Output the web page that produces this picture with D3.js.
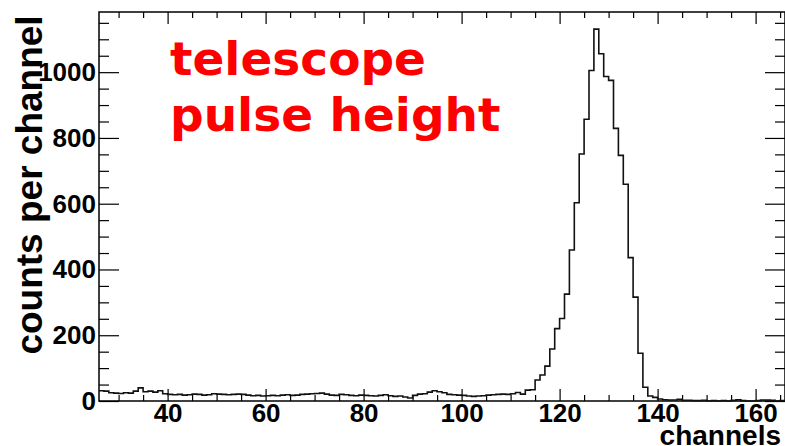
<!DOCTYPE html>
<html>
<head>
<meta charset="utf-8">
<script src="https://cdn.jsdelivr.net/npm/d3@7/dist/d3.min.js"></script>
<style>
  html, body { margin: 0; padding: 0; background: #fff; }
  svg { display: block; }
</style>
</head>
<body>
<svg id="chart" width="785" height="446"></svg>
<script>
// Pulse-height spectrum: one bin per channel, bins [c, c+1)
const firstChannel = 26;
const counts = [
  31, 30, 25, 24, 23, 25, 24, 30, 40, 28,   // 26-35
  30, 27, 31, 22, 20, 19, 20, 18, 19, 21,   // 36-45
  20, 18, 19, 22, 21, 20, 19, 20, 21, 20,   // 46-55
  18, 16, 17, 15, 16, 17, 16, 18, 19, 17,   // 56-65
  18, 20, 21, 22, 23, 24, 21, 18, 17, 20,   // 66-75
  19, 17, 16, 18, 17, 16, 15, 17, 19, 16,   // 76-85
  14, 15, 12, 9, 17, 21, 22, 27, 31, 28,    // 86-95
  25, 20, 19, 18, 17, 15, 14, 15, 16, 18,   // 96-105
  19, 20, 21, 20, 22, 26, 21, 33, 34, 64,   // 106-115
  79, 106, 158, 220, 251, 325, 459, 603, 751, 857,   // 116-125
  1005, 1131, 1056, 987, 975, 829, 747, 659, 436, 316, // 126-135
  145, 42, 15, 11, 6, 4, 3, 3, 5, 2,        // 136-145
  2, 1, 1, 2, 0, 1, 0, 1, 0, 2,             // 146-155
  4, 1, 0, 0, 1, 3, 3, 2, 0, 1              // 156-165
];
const xDomain = [26, 166];
const yDomain = [0, 1183];
const xMajorTicks = [40, 60, 80, 100, 120, 140, 160];
const xMinorTicks = d3.range(30, 166, 5).filter(v => v % 20 !== 0);
const yMajorTicks = [0, 200, 400, 600, 800, 1000];
const yMinorTicks = d3.range(50, 1183, 50).filter(v => v % 200 !== 0);
const titleLines = ["telescope", "pulse height"];
const yTitle = "counts per channel";
const xTitle = "channels";

const svg = d3.select("#chart");
const frame = { left: 99, right: 785, top: 12, bottom: 401 };

const x = d3.scaleLinear().domain(xDomain).range([frame.left, frame.right]);
const y = d3.scaleLinear().domain(yDomain).range([frame.bottom, frame.top]);

const labelFont = "bold 26px 'Liberation Sans', Arial, sans-serif";

function styleAxis(g) {
  g.select(".domain").remove();
  g.selectAll(".tick line").attr("stroke", "#000").attr("stroke-width", 1.2);
  g.selectAll(".tick text").attr("fill", "#000").style("font", labelFont);
}

// bottom axis: labelled majors and minor ticks, pointing into the frame
svg.append("g").attr("transform", `translate(0,${frame.bottom})`)
  .call(d3.axisBottom(x).tickValues(xMajorTicks).tickFormat(d3.format("d"))
    .tickSizeInner(-12).tickSizeOuter(0).tickPadding(3))
  .call(styleAxis);
svg.append("g").attr("transform", `translate(0,${frame.bottom})`)
  .call(d3.axisBottom(x).tickValues(xMinorTicks).tickFormat("")
    .tickSizeInner(-6).tickSizeOuter(0))
  .call(styleAxis);

// top axis mirrors the bottom ticks
svg.append("g").attr("transform", `translate(0,${frame.top})`)
  .call(d3.axisTop(x).tickValues(xMajorTicks).tickFormat("")
    .tickSizeInner(-12).tickSizeOuter(0))
  .call(styleAxis);
svg.append("g").attr("transform", `translate(0,${frame.top})`)
  .call(d3.axisTop(x).tickValues(xMinorTicks).tickFormat("")
    .tickSizeInner(-6).tickSizeOuter(0))
  .call(styleAxis);

// left axis
svg.append("g").attr("transform", `translate(${frame.left},0)`)
  .call(d3.axisLeft(y).tickValues(yMajorTicks).tickFormat(d3.format("d"))
    .tickSizeInner(-20).tickSizeOuter(0).tickPadding(3))
  .call(styleAxis);
svg.append("g").attr("transform", `translate(${frame.left},0)`)
  .call(d3.axisLeft(y).tickValues(yMinorTicks).tickFormat("")
    .tickSizeInner(-10).tickSizeOuter(0))
  .call(styleAxis);

// right axis mirrors the left ticks
svg.append("g").attr("transform", `translate(${frame.right},0)`)
  .call(d3.axisRight(y).tickValues(yMajorTicks).tickFormat("")
    .tickSizeInner(-20).tickSizeOuter(0))
  .call(styleAxis);
svg.append("g").attr("transform", `translate(${frame.right},0)`)
  .call(d3.axisRight(y).tickValues(yMinorTicks).tickFormat("")
    .tickSizeInner(-10).tickSizeOuter(0))
  .call(styleAxis);

// frame
svg.append("rect")
  .attr("x", frame.left).attr("y", frame.top)
  .attr("width", frame.right - frame.left).attr("height", frame.bottom - frame.top)
  .attr("fill", "none").attr("stroke", "#000").attr("stroke-width", 1.5);

// histogram outline as a step line
const bins = counts.map((v, i) => ({ lo: firstChannel + i, hi: firstChannel + i + 1, v }));
const pts = [];
bins.forEach(b => { pts.push([b.lo, b.v]); pts.push([b.hi, b.v]); });
const line = d3.line().x(d => x(d[0])).y(d => y(d[1]));
svg.append("path")
  .attr("d", line(pts))
  .attr("fill", "none").attr("stroke", "#111").attr("stroke-width", 1.6)
  .attr("stroke-linejoin", "miter");

// axis titles
svg.append("text")
  .attr("transform", `translate(42,185) rotate(-90)`)
  .attr("text-anchor", "middle")
  .style("font", "bold 37px 'Liberation Sans', Arial, sans-serif")
  .attr("fill", "#000")
  .text(yTitle);

svg.append("text")
  .attr("x", 781).attr("y", 445)
  .attr("text-anchor", "end")
  .style("font", "bold 28px 'Liberation Sans', Arial, sans-serif")
  .attr("fill", "#000")
  .text(xTitle);

// red annotation
svg.append("text")
  .attr("x", 170).attr("y", 75)
  .style("font", "bold 47px 'DejaVu Sans', Verdana, sans-serif")
  .attr("fill", "#ff0000")
  .text(titleLines[0]);
svg.append("text")
  .attr("x", 170).attr("y", 131)
  .style("font", "bold 47px 'DejaVu Sans', Verdana, sans-serif")
  .attr("fill", "#ff0000")
  .text(titleLines[1]);
</script>
</body>
</html>
